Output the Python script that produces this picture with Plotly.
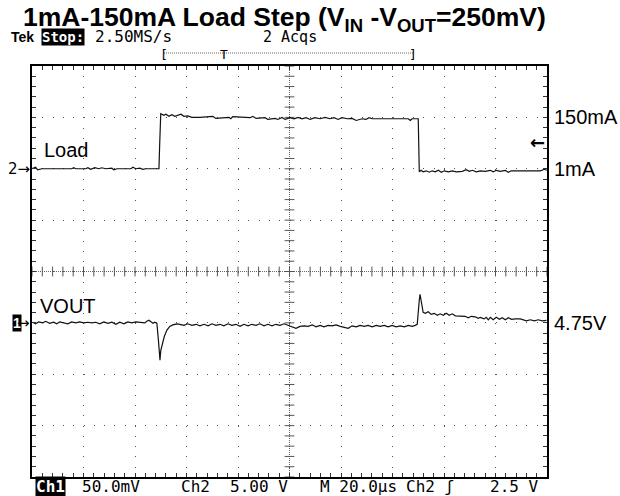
import numpy as np
import plotly.graph_objects as go

# ---------------- data ----------------
TIME_RANGE_US = [0, 200]          # 20 us/div, 10 div
VOUT_RANGE_V = [4.60, 5.00]       # 50 mV/div, 4.75 V marker at -1 div
LOAD_RANGE_MA = [-893, 299]       # 149 mA/div, 1 mA marker at +2 div

load_t = [0, 1.4, 2.2, 3.8, 15.4, 16.2, 17.0, 20.9, 21.7, 22.8,
          24.4, 25.9, 27.1, 28.7, 31.0, 31.8, 33.0, 38.4, 39.2, 40.3,
          41.9, 43.0, 44.2, 49.1, 49.3, 49.6, 50.0, 51.2, 52.0, 53.2,
          54.3, 55.5, 56.7, 57.8, 59.0, 60.5, 62.1, 65.2, 70.2, 71.4,
          76.5, 77.2, 78.0, 84.6, 85.8, 87.0, 90.5, 91.6, 94.4, 95.5,
          97.1, 98.3, 100.2, 101.8, 103.3, 104.9, 106.4, 108.0, 109.9, 111.9,
          113.8, 115.7, 117.3, 118.9, 120.4, 122.4, 124.3, 125.9, 128.2, 129.7,
          130.9, 132.1, 135.2, 146.1, 146.9, 147.6, 150.0, 150.2, 150.4, 151.1,
          151.9, 153.1, 154.3, 155.4, 156.6, 157.8, 159.0, 160.1, 161.7, 163.2,
          164.8, 167.1, 168.6, 169.8, 171.0, 172.5, 174.1, 176.0, 178.0, 179.1,
          180.3, 181.9, 183.8, 185.0, 186.1, 197.4, 199.0, 200.0]
load_ma = [1.0, 5.3, -2.0, 1.0, 1.0, 3.9, 1.0, 1.0, 3.9, -0.5,
           3.9, 1.0, 3.9, 1.0, 2.5, -2.0, 1.0, 1.0, 5.3, 1.0,
           2.5, -0.5, 1.0, 1.0, 1.0, 75.0, 160.9, 156, 159, 153,
           157.5, 153, 156, 159, 153, 154.5, 150, 150, 153, 147,
           150, 146, 152, 149, 153, 147, 149, 144, 147, 144,
           150, 144, 149, 146, 150, 146, 149, 144, 149, 146,
           150, 146, 149, 144, 149, 146, 147, 141, 146, 144,
           149, 146, 146, 146, 141, 146, 146, 70.0, -8.0, -3.5,
           -8.0, -5.0, -9.0, -5.0, -8.0, -3.5, -9.0, -5.0, -8.0, -5.0,
           -8.0, -6.5, -2.0, -6.5, -3.5, -8.0, -5.0, -6.5, -3.5, -8.0,
           -3.5, -6.5, -3.5, -9.0, -5.0, -5.0, -0.5, -3.5]

vout_t = [0.3, 1.4, 2.6, 4.2, 5.3, 6.9, 8.4, 9.6, 10.8, 12.3,
          13.9, 15.4, 17.0, 18.5, 20.1, 21.7, 23.2, 24.8, 26.3, 27.9,
          29.5, 31.0, 32.6, 34.1, 35.7, 37.2, 38.8, 40.3, 41.9, 43.8,
          44.6, 45.4, 46.2, 47.0, 47.7, 48.5, 49.1, 49.7, 50.0, 50.6,
          51.4, 52.4, 53.5, 54.7, 56.3, 57.4, 59.0, 60.5, 62.1, 63.7,
          65.2, 66.8, 68.4, 69.9, 71.4, 73.0, 74.5, 76.1, 77.6, 79.2,
          80.8, 82.3, 83.9, 85.4, 87.0, 88.5, 90.1, 91.6, 93.2, 94.7,
          96.3, 97.9, 99.4, 101.0, 102.5, 104.1, 105.7, 107.2, 108.8, 110.3,
          111.9, 113.4, 115.0, 116.5, 118.1, 119.7, 122.8, 124.3, 125.9, 127.4,
          129.0, 130.5, 132.1, 133.7, 135.2, 136.8, 138.3, 139.9, 141.4, 143.0,
          144.6, 146.1, 147.7, 148.8, 149.6, 150.4, 150.7, 151.1, 151.5, 151.9,
          152.7, 153.9, 155.0, 156.2, 157.4, 158.5, 159.7, 160.9, 162.0, 163.2,
          164.4, 166.3, 168.2, 169.4, 170.6, 172.1, 173.3, 174.1, 175.6, 176.4,
          177.2, 178.0, 179.1, 180.3, 181.5, 182.6, 183.8, 185.0, 186.2, 187.7,
          189.6, 192.0, 193.5, 195.1, 196.6, 198.2, 199.8]
vout_v = [4.7506, 4.7491, 4.7510, 4.7500, 4.7515, 4.7496, 4.7506, 4.7491, 4.7510, 4.7500,
          4.7491, 4.7510, 4.7500, 4.7510, 4.7500, 4.7506, 4.7500, 4.7506, 4.7491, 4.7510,
          4.7496, 4.7506, 4.7486, 4.7506, 4.7491, 4.7510, 4.7500, 4.7510, 4.7506, 4.7500,
          4.7515, 4.7525, 4.7510, 4.7496, 4.7506, 4.7496, 4.7330, 4.7136, 4.7230, 4.7300,
          4.7370, 4.7430, 4.7466, 4.7480, 4.7491, 4.7486, 4.7476, 4.7491, 4.7476, 4.7486,
          4.7471, 4.7486, 4.7471, 4.7491, 4.7476, 4.7486, 4.7471, 4.7491, 4.7476, 4.7486,
          4.7466, 4.7486, 4.7471, 4.7486, 4.7476, 4.7491, 4.7471, 4.7486, 4.7471, 4.7486,
          4.7476, 4.7491, 4.7476, 4.7466, 4.7447, 4.7466, 4.7471, 4.7466, 4.7481, 4.7461,
          4.7476, 4.7461, 4.7476, 4.7471, 4.7481, 4.7466, 4.7447, 4.7471, 4.7461, 4.7476,
          4.7466, 4.7476, 4.7461, 4.7476, 4.7466, 4.7476, 4.7461, 4.7476, 4.7461, 4.7471,
          4.7461, 4.7476, 4.7466, 4.7476, 4.7486, 4.7720, 4.7777, 4.7720, 4.7642, 4.7603,
          4.7593, 4.7608, 4.7583, 4.7593, 4.7574, 4.7588, 4.7574, 4.7593, 4.7574, 4.7588,
          4.7569, 4.7564, 4.7564, 4.7550, 4.7564, 4.7559, 4.7544, 4.7554, 4.7539, 4.7554,
          4.7530, 4.7554, 4.7530, 4.7554, 4.7535, 4.7550, 4.7530, 4.7550, 4.7535, 4.7539,
          4.7539, 4.7520, 4.7530, 4.7520, 4.7530, 4.7520, 4.7525]

assert len(load_t) == len(load_ma), (len(load_t), len(load_ma))
assert len(vout_t) == len(vout_v), (len(vout_t), len(vout_v))

TITLE = "<b>1mA-150mA Load Step (V<sub>IN</sub> -V<sub>OUT</sub>=250mV)</b>"
TRACE_LABELS = ["Load", "VOUT"]
LEVEL_LABELS = ["150mA", "1mA", "4.75V"]
LEVEL_VALUES_MA = [150, 1]
LEVEL_VALUE_V = 4.75
STATUS_TOP = ["Tek", "Stop:", "2.50MS/s", "2 Acqs"]
STATUS_BOTTOM = ["Ch1", "50.0mV", "Ch2", "5.00 V", "M 20.0\u00b5s", "Ch2 \u0283", "2.5 V"]

# ---------------- figure ----------------
W, H = 620, 496
ML, MR, MT, MB = 32, 73, 66, 19
PW, PH = W - ML - MR, H - MT - MB

def px(xp):
    return (xp - ML) / PW

def py(yp):
    return (H - MB - yp) / PH

MONO = "DejaVu Sans Mono"
SANS = "Liberation Sans, Arial, sans-serif"
INK = "#111111"
TICK = "#555555"

fig = go.Figure()

# center graticule ticks
x_div = (TIME_RANGE_US[1] - TIME_RANGE_US[0]) / 10
y_div = (VOUT_RANGE_V[1] - VOUT_RANGE_V[0]) / 8
xc = (TIME_RANGE_US[0] + TIME_RANGE_US[1]) / 2
yc = (VOUT_RANGE_V[0] + VOUT_RANGE_V[1]) / 2
tx = np.arange(TIME_RANGE_US[0], TIME_RANGE_US[1] + 1e-9, x_div / 5)
ty = np.arange(VOUT_RANGE_V[0], VOUT_RANGE_V[1] + 1e-9, y_div / 5)
fig.add_trace(go.Scatter(x=tx, y=np.full(len(tx), yc), mode="markers",
                         marker=dict(symbol="line-ns-open", size=7, color=TICK,
                                     line=dict(width=1, color=TICK)),
                         hoverinfo="skip", showlegend=False))
fig.add_trace(go.Scatter(x=np.full(len(ty), xc), y=ty, mode="markers",
                         marker=dict(symbol="line-ew-open", size=7, color=TICK,
                                     line=dict(width=1, color=TICK)),
                         hoverinfo="skip", showlegend=False))

fig.add_trace(go.Scatter(x=load_t, y=load_ma, yaxis="y2", mode="lines",
                         line=dict(color=INK, width=1.2),
                         hoverinfo="skip", showlegend=False))
fig.add_trace(go.Scatter(x=vout_t, y=vout_v, mode="lines",
                         line=dict(color=INK, width=1.2),
                         hoverinfo="skip", showlegend=False))

# center lines (dense dotted)
fig.add_shape(type="line", xref="x", yref="paper", x0=xc, x1=xc, y0=0, y1=1,
              line=dict(color="#666", width=1, dash="1px,1px"), layer="below")
fig.add_shape(type="line", xref="paper", yref="y", x0=0, x1=1, y0=yc, y1=yc,
              line=dict(color="#666", width=1, dash="1px,1px"), layer="below")

axis_common = dict(showticklabels=False, zeroline=False, showline=True,
                   linecolor="black", linewidth=1.5, mirror="allticks",
                   ticks="inside", ticklen=4, tickcolor="#333", tickwidth=1,
                   gridcolor="#555", gridwidth=1, fixedrange=True)
fig.update_layout(
    width=W, height=H,
    margin=dict(l=ML, r=MR, t=MT, b=MB),
    paper_bgcolor="white", plot_bgcolor="white",
    xaxis=dict(range=TIME_RANGE_US, dtick=x_div, tick0=0,
               griddash="1px,%.3fpx" % (PH / 40 - 1),
               minor=dict(dtick=x_div / 5, ticks="inside", ticklen=4,
                          tickcolor="#333", showgrid=False),
               **axis_common),
    yaxis=dict(range=VOUT_RANGE_V, dtick=y_div, tick0=VOUT_RANGE_V[0],
               griddash="1px,%.3fpx" % (PW / 50 - 1),
               minor=dict(dtick=y_div / 5, ticks="inside", ticklen=4,
                          tickcolor="#333", showgrid=False),
               **axis_common),
    yaxis2=dict(range=LOAD_RANGE_MA, overlaying="y", visible=False,
                fixedrange=True),
)

ann = []
def add(text, x, y, size, xanchor="left", yanchor="middle", family=SANS,
        color="black", bg=None, xref="paper", yref="paper"):
    d = dict(text=text, x=x, y=y, xref=xref, yref=yref, showarrow=False,
             xanchor=xanchor, yanchor=yanchor,
             font=dict(family=family, size=size, color=color))
    if bg:
        d["bgcolor"] = bg
        d["borderpad"] = 0
    ann.append(d)

# title
add(TITLE, px(284), py(19), 26.5, xanchor="center")
# status line top
add("<b>" + STATUS_TOP[0] + "</b>", px(9), py(37), 14, family=SANS)
add("<b>" + STATUS_TOP[1] + "</b>", px(41), py(37), 14, family=MONO,
    color="white", bg="black")
add(STATUS_TOP[2], px(93), py(37), 16, family=MONO)
add(STATUS_TOP[3], px(261), py(37), 15, family=MONO)
# record bracket
add("[", px(158), py(54), 13, family=MONO)
add("]", px(419), py(54), 13, family=MONO, xanchor="right")
add("T", px(224), py(54), 13, family=MONO, xanchor="center")
fig.add_shape(type="line", xref="paper", yref="paper", x0=px(164), x1=px(413),
              y0=py(53), y1=py(53), line=dict(color="#666", width=1, dash="1px,1px"))
# bottom status line
add("<b>" + STATUS_BOTTOM[0] + "</b>", px(35), py(486), 16, family=MONO,
    color="white", bg="black")
add(STATUS_BOTTOM[1], px(80), py(486), 16, family=MONO)
add(STATUS_BOTTOM[2], px(179), py(486), 16, family=MONO)
add(STATUS_BOTTOM[3], px(228), py(486), 16, family=MONO)
add(STATUS_BOTTOM[4], px(318), py(486), 16, family=MONO)
add(STATUS_BOTTOM[5], px(404), py(486), 16, family=MONO)
add(STATUS_BOTTOM[6], px(541), py(486), 16, family=MONO, xanchor="right")

# trace labels
add(TRACE_LABELS[0], px(42), py(150), 20)
add(TRACE_LABELS[1], px(38), py(306), 20)
# ground markers
add("2\u2192", px(32), LEVEL_VALUES_MA[1], 15, xanchor="right", yref="y2",
    family="DejaVu Sans")
add("<b>1</b>", px(12), LEVEL_VALUE_V, 14, color="white", bg="black", yref="y")
add("\u2192", px(32), LEVEL_VALUE_V, 15, xanchor="right", yref="y",
    family="DejaVu Sans")
# right side level labels
add(LEVEL_LABELS[0], px(552), LEVEL_VALUES_MA[0], 20, yref="y2")
add(LEVEL_LABELS[1], px(552), LEVEL_VALUES_MA[1], 20, yref="y2")
add(LEVEL_LABELS[2], px(552), LEVEL_VALUE_V, 20, yref="y")
# trigger level arrow
add("<b>\u2190</b>", px(547), py(142), 18, xanchor="right", family="DejaVu Sans")

fig.update_layout(annotations=ann)
fig.write_html("out.html", config={"displayModeBar": False},
               post_script="document.body.style.margin='0';"
                           "document.body.style.padding='0';")
